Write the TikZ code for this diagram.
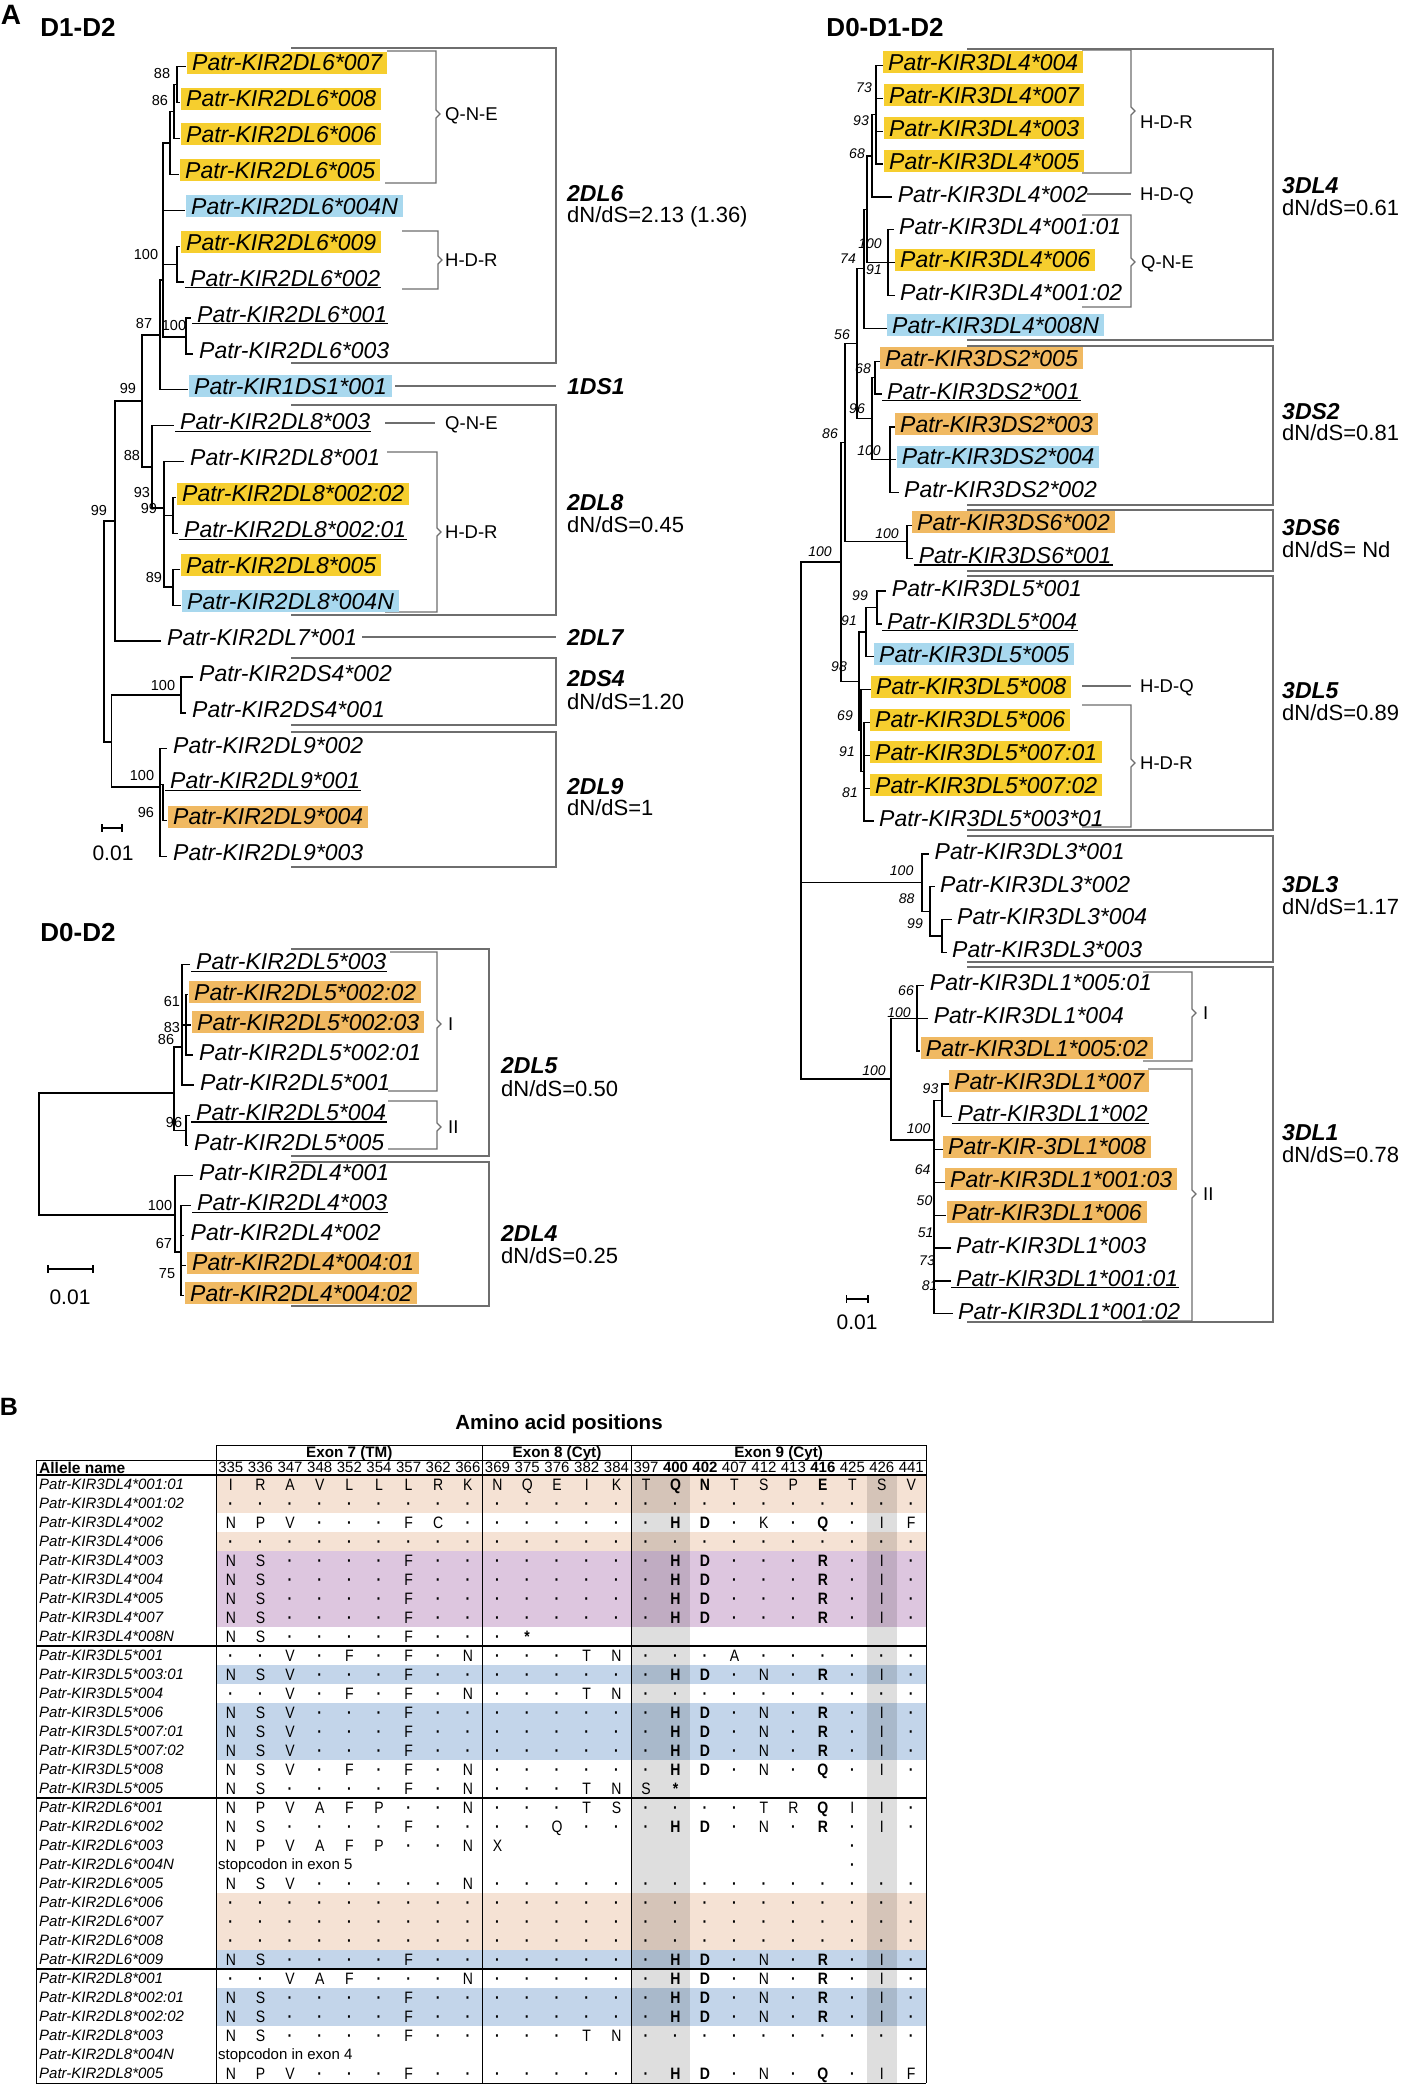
\documentclass[tikz,border=0pt]{standalone}
\usepackage{fontspec}
\setmainfont{Liberation Sans}
\newfontfamily\tabf{Liberation Sans}
\newfontfamily\tabn[FakeStretch=0.85]{Liberation Sans}
\newcommand\fsz[1]{\fontsize{#1}{#1}\selectfont}
\definecolor{cyel}{HTML}{F6CE2E}
\definecolor{cblu}{HTML}{A8D8EE}
\definecolor{cora}{HTML}{F0B962}
\definecolor{cgry}{HTML}{6E6E6E}
\definecolor{tpea}{HTML}{F5E2D4}
\definecolor{tpur}{HTML}{DDC6DF}
\definecolor{tblu}{HTML}{C3D5EA}
\tikzset{
 tipn/.style={anchor=west, inner xsep=5pt, inner ysep=0pt, text height=16.5pt, text depth=0pt, minimum height=22pt, font=\fsz{23}\itshape},
 yel/.style={fill=cyel}, blu/.style={fill=cblu}, ora/.style={fill=cora},
 grp/.style={anchor=west, inner sep=0pt, text height=16.5pt, text depth=0pt, font=\fsz{23}\bfseries\itshape},
 dnds/.style={anchor=west, inner sep=0pt, text height=15.8pt, text depth=0pt, font=\fsz{22}},
 bsl/.style={inner sep=0pt, text height=10.4pt, text depth=0pt, font=\fsz{14.5}},
 bsi/.style={inner sep=0pt, text height=10pt, text depth=0pt, font=\fsz{14}\itshape},
 brl/.style={anchor=west, inner sep=0pt, text height=13.2pt, text depth=0pt, font=\fsz{18.5}},
 ttl/.style={inner sep=0pt, text height=18.8pt, text depth=0pt, font=\fsz{26}\bfseries},
 sbl/.style={inner sep=0pt, text height=15pt, text depth=0pt, font=\fsz{21}},
 tr/.style={line width=1.3pt, line cap=rect},
 gbc/.style={draw=cgry, line width=1.2pt},
 brc/.style={draw=cgry, line width=1.2pt, line join=miter},
 ulc/.style={line width=1.2pt},
 tcell/.style={inner sep=0pt, text height=11.8pt, text depth=0pt, font=\tabn\fsz{16.5}},
 hnum/.style={inner sep=0pt, text height=10.7pt, text depth=0pt, font=\tabf\fsz{15}},
 hexn/.style={inner sep=0pt, text height=10.9pt, text depth=0pt, font=\tabf\fsz{15.2}\bfseries},
 aname/.style={anchor=west, inner sep=0pt, text height=10.7pt, text depth=0pt, font=\tabf\fsz{15}\itshape},
 tline/.style={line width=1pt},
 tthick/.style={line width=1.8pt},
}
\newcommand\gbox[4]{\draw[gbc] (#1,#2) -- (#3,#2) -- (#3,#4) -- (#1,#4);}
\newcommand\brk[6]{\draw[brc] (#1,#2) -- (#3,#2) -- (#3,{#4-4}) -- ({#3+4},#4) -- (#3,{#4+4}) -- (#3,#5) -- (#6,#5);}
\newcommand\undl[1]{\draw[ulc] ([yshift=1.5pt]#1.south west) -- ([yshift=1.5pt,xshift=-4pt]#1.south east);}
\def\cellchar#1{\if#1.\textbf{\textperiodcentered}\else\if#1*\textbf{*}\else#1\fi\fi}
\def\placecell#1{%
  \pgfmathsetmacro\cx{\colidx<9 ? 216+29.63*(\colidx+0.5) : (\colidx<14 ? 482.6+29.74*(\colidx-8.5) : 631.3+29.47*(\colidx-13.5))}%
  \if#1_\else\node[tcell] at (\cx,\rowy) {\ifnum\colidx=15 \bfseries\fi\ifnum\colidx=16 \bfseries\fi\ifnum\colidx=20 \bfseries\fi\cellchar#1};\fi}
\def\parsechars#1{\ifx\relax#1\else\placecell#1\pgfmathtruncatemacro\colidx{\colidx+1}\expandafter\parsechars\fi}
\newcommand\prow[2]{\def\rowy{#1}\def\colidx{0}\parsechars#2\relax}
\begin{document}
\begin{tikzpicture}[x=1pt,y=-1pt]
\useasboundingbox (0,0) rectangle (1401,2084);
\fill[white] (0,0) rectangle (1401,2084);

% ---------- titles
\node[inner sep=0pt,text height=20pt,text depth=0pt,font=\fsz{28}\bfseries] (lA) at (11,15) {A};
\node[ttl] (tA1) at (78,27) {D1-D2};
\node[ttl] (tA2) at (78,932) {D0-D2};
\node[ttl] (tA3) at (885,27) {D0-D1-D2};

% ================= D1-D2 =================
\gbox{291}{48}{556}{363}
\draw[gbc] (395,386)--(556,386);
\gbox{291}{405}{556}{615}
\draw[gbc] (362,637)--(556,637);
\gbox{291}{658}{556}{725}
\gbox{291}{732}{556}{867}
\brk{387}{51}{436}{114}{183}{385}
\brk{402}{231}{438}{260}{289}{402}
\draw[gbc] (385,423)--(435,423);
\brk{387}{452}{437}{532}{612}{385}
\node[brl] (q1) at (445,114) {Q-N-E};
\node[brl] (h1) at (445,260) {H-D-R};
\node[brl] (q2) at (445,423) {Q-N-E};
\node[brl] (h2) at (445,532) {H-D-R};
\node[grp] (g1) at (567,193) {2DL6};
\node[dnds] (d1) at (567,215) {dN/dS=2.13 (1.36)};
\node[grp] (g2) at (567,386) {1DS1};
\node[grp] (g3) at (567,502) {2DL8};
\node[dnds] (d3) at (567,525) {dN/dS=0.45};
\node[grp] (g4) at (567,637) {2DL7};
\node[grp] (g5) at (567,678) {2DS4};
\node[dnds] (d5) at (567,702) {dN/dS=1.20};
\node[grp] (g6) at (567,786) {2DL9};
\node[dnds] (d6) at (567,808) {dN/dS=1};

\draw[tr]
 (177,66.7)--(185,66.7) (177,66.7)--(177,102.6) (177,102.6)--(179,102.6)
 (174,84.7)--(177,84.7) (174,84.7)--(174,138.5) (174,138.5)--(179,138.5)
 (170,111.6)--(174,111.6) (170,111.6)--(170,174.4) (170,174.4)--(178,174.4)
 (163,143)--(170,143) (163,143)--(163,337) (163,210.3)--(184,210.3) (163,264.2)--(177,264.2) (163,337)--(186,337)
 (177,246.2)--(177,282.1) (177,246.2)--(179,246.2) (177,282.1)--(183,282.1)
 (186,318)--(186,353.9) (186,318)--(190,318) (186,353.9)--(192,353.9)
 (160,280)--(163,280) (160,280)--(160,389.8) (160,389.8)--(187,389.8)
 (142,335)--(160,335) (142,335)--(142,467) (142,467)--(152,467)
 (152,425.7)--(152,508) (152,425.7)--(173,425.7) (152,508)--(164,508)
 (164,461.6)--(164,587) (164,461.6)--(183,461.6) (164,515.5)--(173,515.5) (164,587)--(173,587)
 (173,497.5)--(173,533.4) (173,497.5)--(175,497.5) (173,533.4)--(177,533.4)
 (173,569.3)--(173,605.2) (173,569.3)--(179,569.3) (173,605.2)--(180,605.2)
 (115,401)--(142,401) (115,401)--(115,641.1) (115,641.1)--(160,641.1)
 (104,521)--(115,521) (104,521)--(104,742) (104,742)--(111.5,742)
 (111.5,695)--(111.5,787) (111.5,695)--(181,695) (111.5,787)--(160,787)
 (181,677)--(181,712.9) (181,677)--(192,677) (181,712.9)--(185,712.9)
 (160,748.8)--(160,856.5) (160,748.8)--(166,748.8) (160,784.7)--(163,784.7) (160,856.5)--(166,856.5)
 (163,784.7)--(163,820.6) (163,820.6)--(166,820.6);

\node[tipn,yel] (a1) at (187,62.7) {Patr-KIR2DL6*007};
\node[tipn,yel] (a2) at (181,98.6) {Patr-KIR2DL6*008};
\node[tipn,yel] (a3) at (181,134.5) {Patr-KIR2DL6*006};
\node[tipn,yel] (a4) at (180,170.4) {Patr-KIR2DL6*005};
\node[tipn,blu] (a5) at (186,206.3) {Patr-KIR2DL6*004N};
\node[tipn,yel] (a6) at (181,242.2) {Patr-KIR2DL6*009};
\node[tipn] (a7) at (185,278.1) {Patr-KIR2DL6*002};
\node[tipn] (a8) at (192,314.0) {Patr-KIR2DL6*001};
\node[tipn] (a9) at (194,349.9) {Patr-KIR2DL6*003};
\node[tipn,blu] (a10) at (189,385.8) {Patr-KIR1DS1*001};
\node[tipn] (a11) at (175,421.7) {Patr-KIR2DL8*003};
\node[tipn] (a12) at (185,457.6) {Patr-KIR2DL8*001};
\node[tipn,yel] (a13) at (177,493.5) {Patr-KIR2DL8*002:02};
\node[tipn] (a14) at (179,529.4) {Patr-KIR2DL8*002:01};
\node[tipn,yel] (a15) at (181,565.3) {Patr-KIR2DL8*005};
\node[tipn,blu] (a16) at (182,601.2) {Patr-KIR2DL8*004N};
\node[tipn] (a17) at (162,637.1) {Patr-KIR2DL7*001};
\node[tipn] (a18) at (194,673.0) {Patr-KIR2DS4*002};
\node[tipn] (a19) at (187,708.9) {Patr-KIR2DS4*001};
\node[tipn] (a20) at (168,744.8) {Patr-KIR2DL9*002};
\node[tipn] (a21) at (165,780.7) {Patr-KIR2DL9*001};
\node[tipn,ora] (a22) at (168,816.6) {Patr-KIR2DL9*004};
\node[tipn] (a23) at (168,852.5) {Patr-KIR2DL9*003};
\undl{a7}\undl{a8}\undl{a11}\undl{a14}\undl{a21}

\node[bsl] at (162,73) {88};
\node[bsl] at (160,100) {86};
\node[bsl] at (146,254) {100};
\node[bsl] at (174,325) {100};
\node[bsl] at (144,323) {87};
\node[bsl] at (128,388) {99};
\node[bsl] at (132,455) {88};
\node[bsl] at (142,492) {93};
\node[bsl] at (149,508) {99};
\node[bsl] at (154,577) {89};
\node[bsl] at (99,510) {99};
\node[bsl] at (163,685) {100};
\node[bsl] at (142,775) {100};
\node[bsl] at (146,812) {96};
\draw[line width=1.2pt] (102,828)--(122,828) (102,824)--(102,832) (122,824)--(122,832);
\node[sbl] (sb1) at (113,853) {0.01};

% ================= D0-D2 =================
\gbox{291}{949}{489}{1156}
\gbox{291}{1162}{489}{1306}
\brk{390}{952}{437}{1024}{1091}{388}
\brk{388}{1101}{437}{1127}{1149}{388}
\node[brl] (i1) at (448,1024) {I};
\node[brl] (i2) at (448,1127) {II};
\node[grp] (g7) at (501,1065) {2DL5};
\node[dnds] (d7) at (501,1089) {dN/dS=0.50};
\node[grp] (g8) at (501,1233) {2DL4};
\node[dnds] (d8) at (501,1256) {dN/dS=0.25};

\draw[tr]
 (39,1093)--(39,1215) (39,1093)--(174,1093) (39,1215)--(175,1215)
 (174,1047)--(174,1130.3) (174,1047)--(182,1047) (174,1130.3)--(186,1130.3)
 (182,964.7)--(182,1085.1) (182,964.7)--(189,964.7) (182,1085.1)--(193,1085.1) (182,1024.9)--(186,1024.9)
 (186,994.8)--(186,1055) (186,994.8)--(187,994.8) (186,1024.9)--(190,1024.9) (186,1055)--(192,1055)
 (186,1115.2)--(186,1145.3) (186,1115.2)--(189,1115.2) (186,1145.3)--(187,1145.3)
 (175,1175.4)--(175,1252) (175,1175.4)--(192,1175.4) (175,1252)--(181,1252)
 (181,1205.5)--(181,1295.8) (181,1205.5)--(190,1205.5) (181,1235.6)--(183.5,1235.6) (181,1265.7)--(185,1265.7) (181,1295.8)--(183,1295.8);

\node[tipn] (b1) at (191,961.7) {Patr-KIR2DL5*003};
\node[tipn,ora] (b2) at (189,991.8) {Patr-KIR2DL5*002:02};
\node[tipn,ora] (b3) at (192,1021.9) {Patr-KIR2DL5*002:03};
\node[tipn] (b4) at (194,1052.0) {Patr-KIR2DL5*002:01};
\node[tipn] (b5) at (195,1082.1) {Patr-KIR2DL5*001};
\node[tipn] (b6) at (191,1112.2) {Patr-KIR2DL5*004};
\node[tipn] (b7) at (189,1142.3) {Patr-KIR2DL5*005};
\node[tipn] (b8) at (194,1172.4) {Patr-KIR2DL4*001};
\node[tipn] (b9) at (192,1202.5) {Patr-KIR2DL4*003};
\node[tipn] (b10) at (185.5,1232.6) {Patr-KIR2DL4*002};
\node[tipn,ora] (b11) at (187,1262.7) {Patr-KIR2DL4*004:01};
\node[tipn,ora] (b12) at (185,1292.8) {Patr-KIR2DL4*004:02};
\undl{b1}\undl{b6}\undl{b9}

\node[bsl] at (172,1001) {61};
\node[bsl] at (172,1027) {83};
\node[bsl] at (166,1039) {86};
\node[bsl] at (174,1122) {96};
\node[bsl] at (160,1205) {100};
\node[bsl] at (164,1243) {67};
\node[bsl] at (167,1273) {75};
\draw[line width=1.2pt] (48,1269)--(93,1269) (48,1265)--(48,1273) (93,1265)--(93,1273);
\node[sbl] (sb2) at (70,1297) {0.01};

% ================= D0-D1-D2 =================
\gbox{967}{49}{1273}{340}
\gbox{967}{346}{1273}{505}
\gbox{967}{510}{1273}{571}
\gbox{967}{576}{1273}{830}
\gbox{967}{836}{1273}{962}
\gbox{967}{967}{1273}{1322}
\brk{1082}{50}{1131}{111}{173}{1082}
\draw[gbc] (1087,194)--(1131,194);
\brk{1082}{215}{1131}{262}{307}{1082}
\draw[gbc] (1082,686)--(1131,686);
\brk{1082}{705}{1131}{763}{827}{1082}
\brk{1143}{972}{1192}{1013}{1061}{1143}
\brk{1148}{1069}{1192}{1194}{1321}{1142}
\node[brl] (h3) at (1140,122) {H-D-R};
\node[brl] (h4) at (1140,194) {H-D-Q};
\node[brl] (q3) at (1141,262) {Q-N-E};
\node[brl] (h5) at (1140,686) {H-D-Q};
\node[brl] (h6) at (1140,763) {H-D-R};
\node[brl] (i3) at (1203,1013) {I};
\node[brl] (i4) at (1203,1194) {II};
\node[grp] (g9) at (1282,185) {3DL4};
\node[dnds] (d9) at (1282,208) {dN/dS=0.61};
\node[grp] (g10) at (1282,411) {3DS2};
\node[dnds] (d10) at (1282,433) {dN/dS=0.81};
\node[grp] (g11) at (1282,527) {3DS6};
\node[dnds] (d11) at (1282,550) {dN/dS= Nd};
\node[grp] (g12) at (1282,690) {3DL5};
\node[dnds] (d12) at (1282,713) {dN/dS=0.89};
\node[grp] (g13) at (1282,884) {3DL3};
\node[dnds] (d13) at (1282,907) {dN/dS=1.17};
\node[grp] (g14) at (1282,1132) {3DL1};
\node[dnds] (d14) at (1282,1155) {dN/dS=0.78};

\draw[tr]
 (876,65.5)--(876,164.1) (876,65.5)--(882,65.5) (876,98.4)--(882,98.4) (876,131.2)--(882,131.2) (876,164.1)--(882,164.1)
 (872,114.8)--(872,196.9) (872,114.8)--(876,114.8) (872,196.9)--(891,196.9)
 (888,229.8)--(888,295.5) (888,229.8)--(893,229.8) (888,262.6)--(894,262.6) (888,295.5)--(894,295.5)
 (867,155.9)--(867,262.6) (867,155.9)--(872,155.9) (867,262.6)--(888,262.6)
 (864,209.3)--(864,328.3) (864,209.3)--(867,209.3) (864,328.3)--(886,328.3)
 (875,361.2)--(875,394) (875,361.2)--(879,361.2) (875,394)--(881,394)
 (890,426.9)--(890,492.6) (890,426.9)--(894,426.9) (890,459.7)--(895.6,459.7) (890,492.6)--(898,492.6)
 (872,377.6)--(872,459.7) (872,377.6)--(875,377.6) (872,459.7)--(890,459.7)
 (857,268.8)--(857,418.7) (857,268.8)--(864,268.8) (857,418.7)--(872,418.7)
 (907,525.4)--(907,558.3) (907,525.4)--(911,525.4) (907,558.3)--(912.6,558.3)
 (845,343.7)--(845,541.8) (845,343.7)--(857,343.7) (845,541.8)--(907,541.8)
 (877,591.1)--(877,624) (877,591.1)--(885.7,591.1) (877,624)--(881,624)
 (866,607.5)--(866,656.8) (866,607.5)--(877,607.5) (866,656.8)--(873,656.8)
 (864,722.5)--(864,821.1) (864,722.5)--(869,722.5) (864,755.4)--(869,755.4) (864,788.2)--(869,788.2) (864,821.1)--(873,821.1)
 (861,689.7)--(861,771.8) (861,689.7)--(870,689.7) (861,771.8)--(864,771.8)
 (859,632)--(859,730.7) (859,632)--(866,632) (859,730.7)--(861,730.7)
 (841,442.7)--(841,681.4) (841,442.7)--(845,442.7) (841,681.4)--(859,681.4)
 (942,919.6)--(942,952.5) (942,919.6)--(951,919.6) (942,952.5)--(946,952.5)
 (930,886.8)--(930,936) (930,886.8)--(934,886.8) (930,936)--(942,936)
 (922,853.9)--(922,911.4) (922,853.9)--(928.5,853.9) (922,911.4)--(930,911.4)
 (917,985.3)--(917,1051) (917,985.3)--(923.7,985.3) (917,1018.2)--(927.6,1018.2) (917,1051)--(919.7,1051)
 (942,1083.9)--(942,1116.7) (942,1083.9)--(948,1083.9) (942,1116.7)--(951.4,1116.7)
 (934,1100.3)--(934,1313.8) (934,1100.3)--(942,1100.3) (934,1149.6)--(942,1149.6) (934,1182.4)--(944,1182.4) (934,1215.3)--(945.5,1215.3) (934,1248.1)--(950,1248.1) (934,1281)--(950,1281) (934,1313.8)--(952,1313.8)
 (891,1018.2)--(891,1140) (891,1018.2)--(917,1018.2) (891,1140)--(934,1140)
 (801,562)--(841,562) (801,882.6)--(922,882.6) (801,1079)--(891,1079);
\draw[tr,line width=2.2pt] (801,562)--(801,1079);

\node[tipn,yel] (c1) at (883,62.5) {Patr-KIR3DL4*004};
\node[tipn,yel] (c2) at (884,95.35) {Patr-KIR3DL4*007};
\node[tipn,yel] (c3) at (884,128.2) {Patr-KIR3DL4*003};
\node[tipn,yel] (c4) at (884,161.05) {Patr-KIR3DL4*005};
\node[tipn] (c5) at (892.6,193.9) {Patr-KIR3DL4*002};
\node[tipn] (c6) at (894,226.75) {Patr-KIR3DL4*001:01};
\node[tipn,yel] (c7) at (895,259.6) {Patr-KIR3DL4*006};
\node[tipn] (c8) at (895,292.45) {Patr-KIR3DL4*001:02};
\node[tipn,blu] (c9) at (887,325.3) {Patr-KIR3DL4*008N};
\node[tipn,ora] (c10) at (880,358.15) {Patr-KIR3DS2*005};
\node[tipn] (c11) at (882,391) {Patr-KIR3DS2*001};
\node[tipn,ora] (c12) at (895,423.85) {Patr-KIR3DS2*003};
\node[tipn,blu] (c13) at (896.6,456.7) {Patr-KIR3DS2*004};
\node[tipn] (c14) at (899,489.55) {Patr-KIR3DS2*002};
\node[tipn,ora] (c15) at (912,522.4) {Patr-KIR3DS6*002};
\node[tipn] (c16) at (913.6,555.25) {Patr-KIR3DS6*001};
\node[tipn] (c17) at (886.7,588.1) {Patr-KIR3DL5*001};
\node[tipn] (c18) at (882,620.95) {Patr-KIR3DL5*004};
\node[tipn,blu] (c19) at (874,653.8) {Patr-KIR3DL5*005};
\node[tipn,yel] (c20) at (871,686.65) {Patr-KIR3DL5*008};
\node[tipn,yel] (c21) at (870,719.5) {Patr-KIR3DL5*006};
\node[tipn,yel] (c22) at (870,752.35) {Patr-KIR3DL5*007:01};
\node[tipn,yel] (c23) at (870,785.2) {Patr-KIR3DL5*007:02};
\node[tipn] (c24) at (874,818.05) {Patr-KIR3DL5*003*01};
\node[tipn] (c25) at (929.5,850.9) {Patr-KIR3DL3*001};
\node[tipn] (c26) at (935,883.75) {Patr-KIR3DL3*002};
\node[tipn] (c27) at (952,916.6) {Patr-KIR3DL3*004};
\node[tipn] (c28) at (947,949.45) {Patr-KIR3DL3*003};
\node[tipn] (c29) at (924.7,982.3) {Patr-KIR3DL1*005:01};
\node[tipn] (c30) at (928.6,1015.15) {Patr-KIR3DL1*004};
\node[tipn,ora] (c31) at (920.7,1048) {Patr-KIR3DL1*005:02};
\node[tipn,ora] (c32) at (949,1080.85) {Patr-KIR3DL1*007};
\node[tipn] (c33) at (952.4,1113.7) {Patr-KIR3DL1*002};
\node[tipn,ora] (c34) at (943,1146.55) {Patr-KIR-3DL1*008};
\node[tipn,ora] (c35) at (945,1179.4) {Patr-KIR3DL1*001:03};
\node[tipn,ora] (c36) at (946.5,1212.25) {Patr-KIR3DL1*006};
\node[tipn] (c37) at (951,1245.1) {Patr-KIR3DL1*003};
\node[tipn] (c38) at (951,1277.95) {Patr-KIR3DL1*001:01};
\node[tipn] (c39) at (953,1310.8) {Patr-KIR3DL1*001:02};
\undl{c11}\undl{c16}\undl{c18}\undl{c33}\undl{c38}

\node[bsi] at (864,88) {73};
\node[bsi] at (861,120.5) {93};
\node[bsi] at (857,154) {68};
\node[bsi] at (870,244) {100};
\node[bsi] at (874,269) {91};
\node[bsi] at (848,258) {74};
\node[bsi] at (842,334) {56};
\node[bsi] at (863,368) {68};
\node[bsi] at (857,408) {96};
\node[bsi] at (869,450) {100};
\node[bsi] at (830,433) {86};
\node[bsi] at (887,533) {100};
\node[bsi] at (820,551) {100};
\node[bsi] at (860,595.5) {99};
\node[bsi] at (849,620) {91};
\node[bsi] at (839,666) {98};
\node[bsi] at (845,715) {69};
\node[bsi] at (847,751) {91};
\node[bsi] at (850,792) {81};
\node[bsi] at (901.6,870) {100};
\node[bsi] at (906.7,898.6) {88};
\node[bsi] at (915,923) {99};
\node[bsi] at (906,990) {66};
\node[bsi] at (899,1012) {100};
\node[bsi] at (874,1070) {100};
\node[bsi] at (930.5,1088) {93};
\node[bsi] at (918.6,1128) {100};
\node[bsi] at (922.6,1169) {64};
\node[bsi] at (924.5,1200) {50};
\node[bsi] at (925.7,1232) {51};
\node[bsi] at (927,1260.5) {73};
\node[bsi] at (929.7,1285.7) {81};
\draw[line width=1.2pt] (846.5,1299)--(868,1299) (846.5,1295)--(846.5,1303) (868,1295)--(868,1303);
\node[sbl] (sb3) at (857,1322) {0.01};

% ================= B table =================
\node[inner sep=0pt,text height=18pt,text depth=0pt,font=\fsz{25}\bfseries] (lB) at (9,1406) {B};
\node[inner sep=0pt,text height=14.7pt,text depth=0pt,font=\tabf\fsz{20.5}\bfseries] (ttab) at (559,1421.7) {Amino acid positions};

% row bands
\fill[tpea] (216,1475) rectangle (926,1513);
\fill[tpea] (216,1532) rectangle (926,1551);
\fill[tpur] (216,1551) rectangle (926,1627);
\fill[tblu] (216,1665) rectangle (926,1684);
\fill[tblu] (216,1703) rectangle (926,1760);
\fill[tpea] (216,1893) rectangle (926,1950);
\fill[tblu] (216,1950) rectangle (926,1969);
\fill[tblu] (216,1988) rectangle (926,2026);
% grey columns
\fill[black,opacity=0.13] (631.3,1475) rectangle (690.3,2083);
\fill[black,opacity=0.13] (867.3,1475) rectangle (896.8,2083);
% lines
\draw[tline] (216,1445)--(926,1445);
\draw[tline] (36,1460)--(926,1460);
\draw[tthick] (36,1475)--(926,1475);
\draw[tthick] (36,1646)--(926,1646);
\draw[tthick] (36,1798)--(926,1798);
\draw[tthick] (36,1969)--(926,1969);
\draw[tline] (36,2083)--(926,2083);
\draw[tline] (36,1460)--(36,2083);
\draw[tline] (216,1445)--(216,2083);
\draw[tline] (482.6,1445)--(482.6,2083);
\draw[tline] (631.3,1445)--(631.3,2083);
\draw[tline] (926,1445)--(926,2083);
% headers
\node[hexn] (e7) at (349.3,1452.5) {Exon 7 (TM)};
\node[hexn] (e8) at (557,1452.5) {Exon 8 (Cyt)};
\node[hexn] (e9) at (778.6,1452.5) {Exon 9 (Cyt)};
\node[anchor=west,inner sep=0pt,text height=11pt,text depth=0pt,font=\tabf\fsz{15.5}\bfseries] (an) at (39,1467.5) {Allele name};
\foreach \n [count=\ci from 0] in {335,336,347,348,352,354,357,362,366,369,375,376,382,384,397,400,402,407,412,413,416,425,426,441}{
  \pgfmathsetmacro\cx{\ci<9 ? 216+29.63*(\ci+0.5) : (\ci<14 ? 482.6+29.74*(\ci-8.5) : 631.3+29.47*(\ci-13.5))}
  \node[hnum] at (\cx,1467.5) {\ifnum\ci=15 \bfseries\fi\ifnum\ci=16 \bfseries\fi\ifnum\ci=20 \bfseries\fi\n};
}
\foreach \nm [count=\k from 0] in {3DL4*001:01,3DL4*001:02,3DL4*002,3DL4*006,3DL4*003,3DL4*004,3DL4*005,3DL4*007,3DL4*008N,
 3DL5*001,3DL5*003:01,3DL5*004,3DL5*006,3DL5*007:01,3DL5*007:02,3DL5*008,3DL5*005,
 2DL6*001,2DL6*002,2DL6*003,2DL6*004N,2DL6*005,2DL6*006,2DL6*007,2DL6*008,2DL6*009,
 2DL8*001,2DL8*002:01,2DL8*002:02,2DL8*003,2DL8*004N,2DL8*005}{
  \node[aname] at (39,{1484.5+19*\k}) {Patr-KIR\nm};
}
% data
\prow{1484.5}{IRAVLLLRK NQEIK TQNTSPETSV}
\prow{1503.5}{......... ..... ..........}
\prow{1522.5}{NPV...FC. ..... .HD.K.Q.IF}
\prow{1541.5}{......... ..... ..........}
\prow{1560.5}{NS....F.. ..... .HD...R.I.}
\prow{1579.5}{NS....F.. ..... .HD...R.I.}
\prow{1598.5}{NS....F.. ..... .HD...R.I.}
\prow{1617.5}{NS....F.. ..... .HD...R.I.}
\prow{1636.5}{NS....F.. .*___ __________}
\prow{1655.5}{..V.F.F.N ...TN ...A......}
\prow{1674.5}{NSV...F.. ..... .HD.N.R.I.}
\prow{1693.5}{..V.F.F.N ...TN ..........}
\prow{1712.5}{NSV...F.. ..... .HD.N.R.I.}
\prow{1731.5}{NSV...F.. ..... .HD.N.R.I.}
\prow{1750.5}{NSV...F.. ..... .HD.N.R.I.}
\prow{1769.5}{NSV.F.F.N ..... .HD.N.Q.I.}
\prow{1788.5}{NS....F.N ...TN S*________}
\prow{1807.5}{NPVAFP..N ...TS ....TRQII.}
\prow{1826.5}{NS....F.. ..Q.. .HD.N.R.I.}
\prow{1845.5}{NPVAFP..N X____ _______.__}
\prow{1864.5}{_________ _____ _______.__}
\prow{1883.5}{NSV.....N ..... ..........}
\prow{1902.5}{......... ..... ..........}
\prow{1921.5}{......... ..... ..........}
\prow{1940.5}{......... ..... ..........}
\prow{1959.5}{NS....F.. ..... .HD.N.R.I.}
\prow{1978.5}{..VAF...N ..... .HD.N.R.I.}
\prow{1997.5}{NS....F.. ..... .HD.N.R.I.}
\prow{2016.5}{NS....F.. ..... .HD.N.R.I.}
\prow{2035.5}{NS....F.. ...TN ..........}
\prow{2073.5}{NPV...F.. ..... .HD.N.Q.IF}
\node[anchor=west,inner sep=0pt,text height=10.7pt,text depth=0pt,font=\tabf\fsz{15}] (sc5) at (218,1864.5) {stopcodon in exon 5};
\node[anchor=west,inner sep=0pt,text height=10.7pt,text depth=0pt,font=\tabf\fsz{15}] (sc4) at (218,2054.5) {stopcodon in exon 4};
\end{tikzpicture}
\end{document}
